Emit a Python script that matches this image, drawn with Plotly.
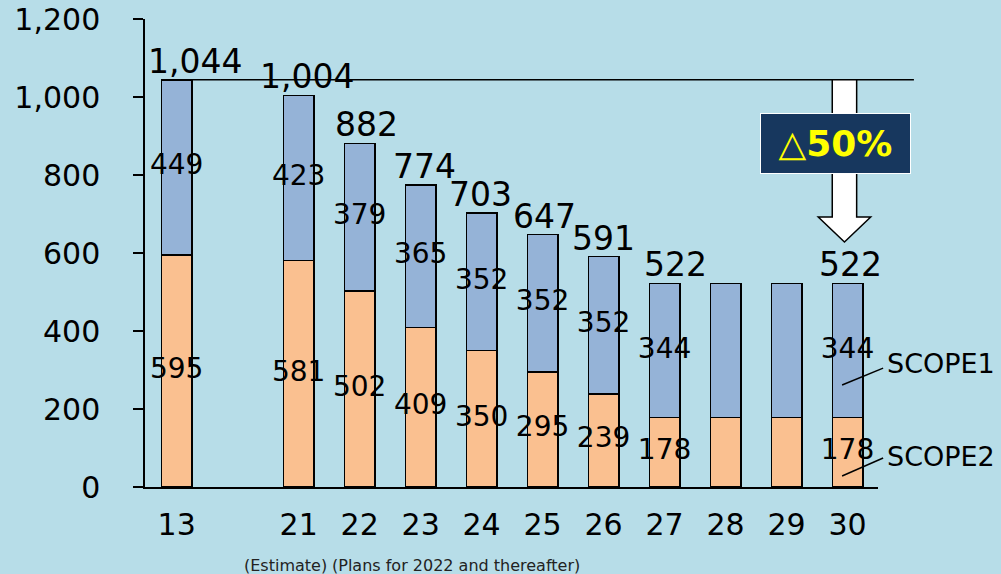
import plotly.graph_objects as go

# Fiscal years shown on the axis (a blank slot separates the base year)
years = ["13", "21", "22", "23", "24", "25", "26", "27", "28", "29", "30"]
scope2 = [595, 581, 502, 409, 350, 295, 239, 178, 178, 178, 178]
scope1 = [449, 423, 379, 365, 352, 352, 352, 344, 344, 344, 344]
totals = [1044, 1004, 882, 774, 703, 647, 591, 522, None, None, 522]
labeled_years = ["13", "21", "22", "23", "24", "25", "26", "27", "30"]
y_ticks = [0, 200, 400, 600, 800, 1000, 1200]

BG = "#b7dde8"
ORANGE = "#fac090"
BLUE = "#95b3d7"
FONT = "DejaVu Sans"

axis_slots = [years[0], " "] + years[1:]

fig = go.Figure()
fig.add_bar(x=years, y=scope2, name="SCOPE2", width=0.5,
            marker=dict(color=ORANGE, line=dict(color="black", width=1.5)))
fig.add_bar(x=years, y=scope1, name="SCOPE1", width=0.5,
            marker=dict(color=BLUE, line=dict(color="black", width=1.5)))

# Segment value labels, centred in each stacked segment
s2_text = [str(v) if y in labeled_years else "" for y, v in zip(years, scope2)]
s1_text = [str(v) if y in labeled_years else "" for y, v in zip(years, scope1)]
fig.add_scatter(x=years, y=[v / 2 for v in scope2], mode="text", text=s2_text,
                textposition="middle center",
                textfont=dict(family=FONT, size=28, color="black"),
                hoverinfo="skip", cliponaxis=False)
fig.add_scatter(x=years, y=[b + v / 2 for b, v in zip(scope2, scope1)], mode="text",
                text=s1_text, textposition="middle center",
                textfont=dict(family=FONT, size=28, color="black"),
                hoverinfo="skip", cliponaxis=False)

# Totals above each bar (placed by slot index on the category axis)
total_dx = [18, 8, 7, 4, -1, 2, 0, 11, 0, 0, 3]
for y, t, dx in zip(years, totals, total_dx):
    if t is None:
        continue
    fig.add_annotation(x=axis_slots.index(y), y=t, text=f"{t:,}", showarrow=False,
                       xref="x", yref="y", yanchor="bottom", xshift=dx, yshift=-3,
                       font=dict(family=FONT, size=33, color="black"))

base_total = totals[0]

# Reference line at the base-year level
fig.add_shape(type="line", xref="paper", yref="y", x0=0.022, x1=1.049,
              y0=base_total, y1=base_total, line=dict(color="black", width=1.5))

# Down arrow toward the target year
c = 10.95
sw, hw = 0.2, 0.43
head_base, tip = 692, 628
arrow_path = (f"M {c - sw},{base_total} L {c + sw},{base_total} L {c + sw},{head_base} "
              f"L {c + hw},{head_base} L {c},{tip} L {c - hw},{head_base} "
              f"L {c - sw},{head_base} Z")
fig.add_shape(type="path", xref="x", yref="y", path=arrow_path,
              fillcolor="white", line=dict(color="black", width=1.5), layer="above")

fig.add_annotation(x=10.8, y=881, xref="x", yref="y", showarrow=False,
                   text="△<b>50%</b>", width=147, height=57,
                   bgcolor="#17375e", bordercolor="white", borderwidth=1,
                   font=dict(family=FONT, size=36, color="#ffff00"))

# Series callouts
for name, y_text, line_y in [("SCOPE1", 0.263, (0.218, 0.254)),
                             ("SCOPE2", 0.066, (0.0235, 0.062))]:
    fig.add_shape(type="line", xref="paper", yref="paper", x0=0.951, x1=1.007,
                  y0=line_y[0], y1=line_y[1], line=dict(color="black", width=1.5))
    fig.add_annotation(x=1.01, y=y_text, xref="paper", yref="paper", showarrow=False,
                       text=name, xanchor="left", yanchor="middle",
                       font=dict(family=FONT, size=27, color="black"))

# Notes under the axis
fig.add_annotation(x=0.192, y=-0.167, xref="paper", yref="paper", showarrow=False,
                   text="(Estimate)", xanchor="center", yanchor="middle",
                   font=dict(family=FONT, size=16, color="#222222"))
fig.add_annotation(x=0.424, y=-0.167, xref="paper", yref="paper", showarrow=False,
                   text="(Plans for 2022 and thereafter)", xanchor="center",
                   yanchor="middle", font=dict(family=FONT, size=16, color="#222222"))

fig.update_layout(
    width=1001, height=574, barmode="stack", showlegend=False,
    paper_bgcolor=BG, plot_bgcolor=BG,
    margin=dict(l=145, r=123, t=19, b=87),
    font=dict(family=FONT, color="black"),
    xaxis=dict(type="category", categoryorder="array", categoryarray=axis_slots,
               range=[-0.52, 11.5], showline=True, linecolor="black", linewidth=1.5,
               ticks="", showgrid=False, tickfont=dict(size=30),
               ticklabelstandoff=10, automargin=False),
    yaxis=dict(range=[0, 1200], tickvals=y_ticks, tickformat=",", ticks="outside",
               ticklen=10, tickwidth=1.5, tickcolor="black", showline=True,
               linecolor="black", linewidth=1.5, showgrid=False, zeroline=False,
               tickfont=dict(size=30), ticklabelstandoff=27, automargin=False),
)

fig.write_html("out.html")
